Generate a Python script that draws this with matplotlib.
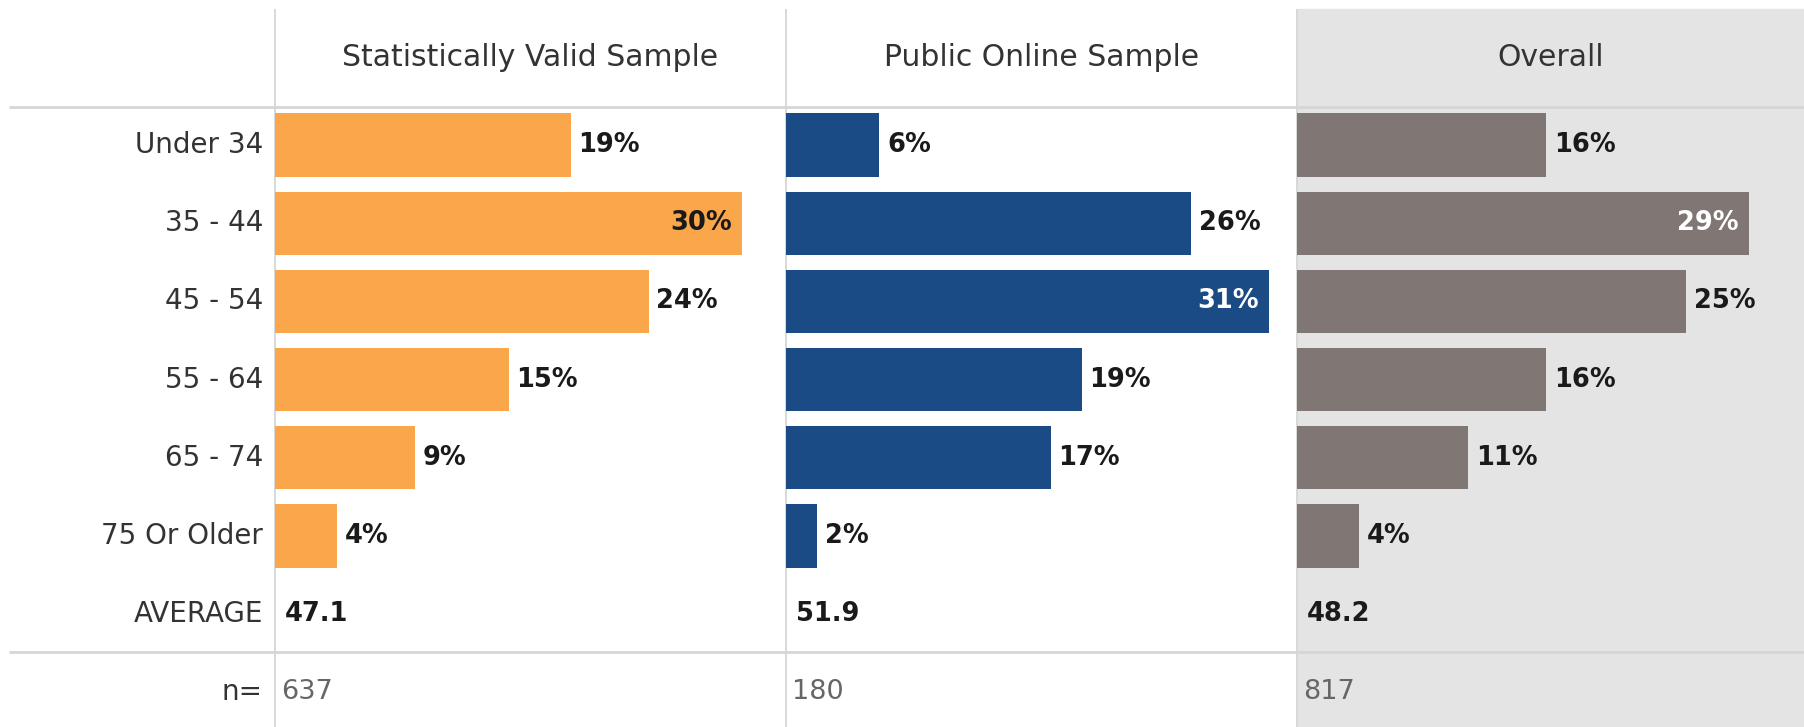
import matplotlib
matplotlib.use("Agg")
from matplotlib import pyplot as plt
from matplotlib.patches import Rectangle

age_groups = ['Under 34', '35 - 44', '45 - 54', '55 - 64', '65 - 74', '75 Or Older']
panel_titles = ['Statistically Valid Sample', 'Public Online Sample', 'Overall']
valid_pct = [19, 30, 24, 15, 9, 4]
online_pct = [6, 26, 31, 19, 17, 2]
overall_pct = [16, 29, 25, 16, 11, 4]
average_age = [47.1, 51.9, 48.2]
sample_n = [637, 180, 817]

panel_values = [valid_pct, online_pct, overall_pct]
bar_colours = ['#FAA64A', '#1A4B84', '#807673']
inside_text = ['#1a1a1a', 'white', 'white']

W, H = 1804, 727
panel_edges = [275, 786, 1297, 1804]
px_per_pct = 15.57
row0, row_pitch = 145, 78.2
ylims = ((H - row0) / row_pitch, -row0 / row_pitch)

plt.rcParams['font.family'] = ['DejaVu Sans']
fig = plt.figure(figsize=(W / 100, H / 100), dpi=100)
fig.patch.set_facecolor('white')

# grid lines and shaded "Overall" column, in pixel units
bg = fig.add_axes([0, 0, 1, 1])
bg.set_xlim(0, W)
bg.set_ylim(H, 0)
bg.axis('off')
bg.add_patch(Rectangle((panel_edges[2], 9), W - panel_edges[2], H, color='#e4e4e4', zorder=0))
line_col = '#d6d6d6'
bg.hlines([107, 652], 9, W, color=line_col, lw=2.0, zorder=1)
bg.vlines(panel_edges[:3], 9, H, color=line_col, lw=1.3, zorder=1)

# row labels
lab = fig.add_axes([0, 0, panel_edges[0] / W, 1])
lab.set_xlim(0, panel_edges[0])
lab.set_ylim(*ylims)
lab.axis('off')
for i, name in enumerate(age_groups + ['AVERAGE', 'n=']):
    lab.text(263, i, name, ha='right', va='center', fontsize=20, color='#333333')

for p, vals in enumerate(panel_values):
    x0, x1 = panel_edges[p], panel_edges[p + 1]
    ax = fig.add_axes([x0 / W, 0, (x1 - x0) / W, 1])
    ax.set_xlim(0, (x1 - x0) / px_per_pct)
    ax.set_ylim(*ylims)
    ax.axis('off')
    rows = range(len(vals))
    ax.barh(rows, vals, height=0.81, color=bar_colours[p], edgecolor='none')
    top = max(vals)
    for r, v in zip(rows, vals):
        if v == top:
            ax.text(v - 0.62, r, f'{v}%', ha='right', va='center', fontsize=18.5,
                    fontweight='bold', color=inside_text[p])
        else:
            ax.text(v + 0.5, r, f'{v}%', ha='left', va='center', fontsize=18.5,
                    fontweight='bold', color='#1a1a1a')
    ax.text(0.64, 6, f'{average_age[p]}', ha='left', va='center', fontsize=18.5,
            fontweight='bold', color='#1a1a1a')
    ax.text(0.4, 7, f'{sample_n[p]}', ha='left', va='center', fontsize=19.5,
            color='#666666')
    ax.text(0.5, -1.12, panel_titles[p], transform=ax.get_yaxis_transform(),
            ha='center', va='center', fontsize=21.5, color='#333333')

fig.savefig('out.png', dpi=100)
